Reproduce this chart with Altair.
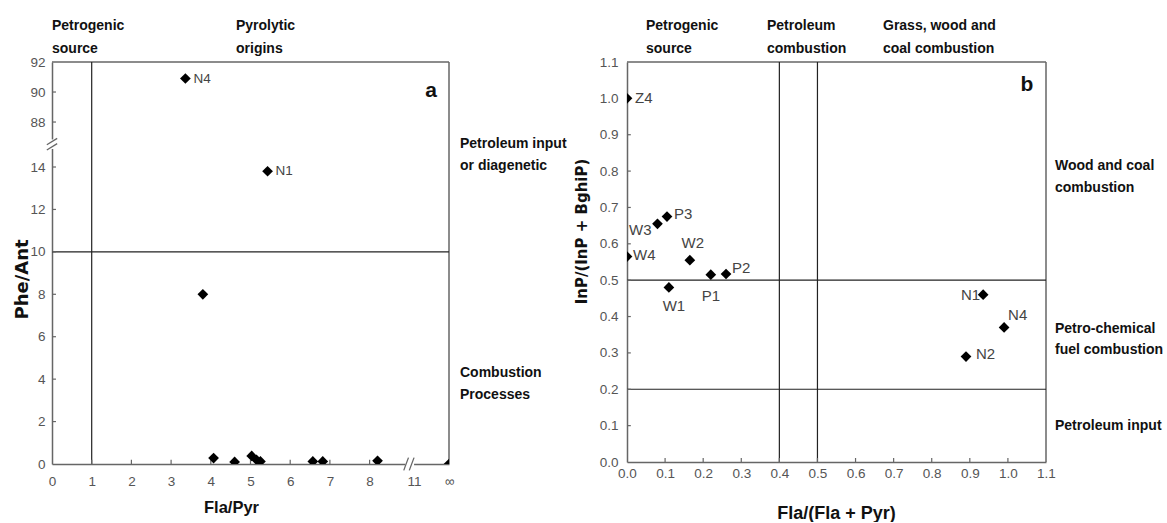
import math
import altair as alt
import pandas as pd

# ---------------- data: panel a (Phe/Ant vs Fla/Pyr) ----------------
a_names = ["N4", "N1", "", "", "", "", "", "", "", "", "", ""]
a_fla_pyr = [3.36, 5.43, 3.80, 4.07, 4.60, 5.03, 5.15, 5.25, 6.57, 6.82, 8.20, math.inf]
a_phe_ant = [90.9, 13.8, 8.0, 0.28, 0.10, 0.38, 0.20, 0.12, 0.12, 0.12, 0.15, 0.0]
a_x_ticks = [0, 1, 2, 3, 4, 5, 6, 7, 8, 11, math.inf]
a_y_ticks = [0, 2, 4, 6, 8, 10, 12, 14, 88, 90, 92]
a_x_limit = 1.0
a_y_limit = 10.0

# ---------------- data: panel b (InP/(InP+BghiP) vs Fla/(Fla+Pyr)) ----------------
b_names = ["Z4", "W3", "P3", "W4", "W2", "W1", "P1", "P2", "N1", "N4", "N2"]
b_fla_ratio = [0.0, 0.08, 0.105, 0.0, 0.165, 0.11, 0.22, 0.26, 0.935, 0.99, 0.89]
b_inp_ratio = [1.0, 0.655, 0.675, 0.565, 0.555, 0.48, 0.515, 0.517, 0.46, 0.37, 0.29]
b_ticks = [round(0.1 * i, 1) for i in range(12)]
b_x_limits = [0.4, 0.5]
b_y_limits = [0.2, 0.5]

# ---------------- styling ----------------
REG = "Liberation Sans, Arial"
WIDE_B = "DejaVu Sans"
FRAME = "#666666"
LINE = "#222222"
A_W, A_H = 397, 402
B_W, B_H = 419, 400
NOTE_SIZE = 14

# broken-axis mapping for panel a
def ax(v):
    if math.isinf(v):
        return 10.0
    if v > 9:
        return 9.12 + (v - 11) * 0.1
    return v

def ay(v):
    return v if v <= 15 else 16.12 + (v - 88) * 0.7075

A_XMAX = 10.0
A_YMAX = ay(92)

ax_vals = [ax(v) for v in a_x_ticks]
ay_vals = [ay(v) for v in a_y_ticks]
y_expr = "".join(f"datum.value > {ay(t) - 0.3:.3f} ? '{t}' : " for t in [92, 90, 88]) + "datum.label"
x_expr = "datum.value > 9.5 ? '∞' : datum.value > 8.5 ? '11' : datum.label"

axis_common = dict(ticks=False, grid=False, domainColor=FRAME, domainWidth=1.5,
                   labelColor="#555555", labelFont=REG, labelFontSize=13.5,
                   labelFlush=False, labelOverlap=False, zindex=0)

AXA_X = alt.Axis(values=ax_vals, labelExpr=x_expr, format="d", labelPadding=10,
                 title="Fla/Pyr", titleFont=REG, titleFontSize=16.5, titleFontWeight="bold",
                 titleColor="#111111", titleX=179, titleY=48, titleAlign="center",
                 titleBaseline="alphabetic", **axis_common)
AXA_Y = alt.Axis(values=ay_vals, labelExpr=y_expr, format="d", labelPadding=7,
                 title="Phe/Ant", titleFont=WIDE_B, titleFontSize=18, titleFontWeight="bold",
                 titleColor="#111111", titleX=-30, titleY=217, titleAngle=270,
                 titleAlign="center", titleBaseline="middle", **axis_common)
AXB_X = alt.Axis(values=b_ticks, format=".1f", labelPadding=4,
                 title="Fla/(Fla + Pyr)", titleFont=REG, titleFontSize=18, titleFontWeight="bold",
                 titleColor="#111111", titleX=209, titleY=56, titleAlign="center",
                 titleBaseline="alphabetic", **axis_common)
AXB_Y = alt.Axis(values=b_ticks, format=".1f", labelPadding=9,
                 title="InP/(InP + BghiP)", titleFont=WIDE_B, titleFontSize=15, titleFontWeight="bold",
                 titleColor="#111111", titleX=-46, titleY=169, titleAngle=270,
                 titleAlign="center", titleBaseline="middle", **axis_common)

def make_enc(xdom, ydom, xaxis, yaxis):
    def X(f="xd"):
        return alt.X(f"{f}:Q", scale=alt.Scale(domain=xdom, nice=False, zero=False), axis=xaxis)
    def Y(f="yd"):
        return alt.Y(f"{f}:Q", scale=alt.Scale(domain=ydom, nice=False, zero=False), axis=yaxis)
    return X, Y

one = pd.DataFrame({"k": [0]})

def rules(X, Y, segs, color, width):
    df = pd.DataFrame(segs, columns=["xd", "yd", "xd2", "yd2"])
    return alt.Chart(df).mark_rule(color=color, strokeWidth=width).encode(
        x=X(), y=Y(), x2=alt.X2("xd2:Q"), y2=alt.Y2("yd2:Q"))

def white_rect(X, Y, x0, y0, x1, y1):
    df = pd.DataFrame({"xd": [x0], "yd": [y0], "xd2": [x1], "yd2": [y1]})
    return alt.Chart(df).mark_rect(color="white").encode(
        x=X(), y=Y(), x2=alt.X2("xd2:Q"), y2=alt.Y2("yd2:Q"))

def note(lines, x, y, size=NOTE_SIZE, align="left", baseline="top", lh=22, weight="bold", font=REG):
    return alt.Chart(one).mark_text(align=align, baseline=baseline, font=font, fontSize=size,
                                    fontWeight=weight, color="#111111", lineHeight=lh).encode(
        x=alt.value(x), y=alt.value(y), text=alt.value(lines))

def points(df, X, Y):
    return alt.Chart(df).mark_point(shape="diamond", filled=True, size=115, color="black",
                                    opacity=1, clip=True).encode(x=X(), y=Y())

def point_labels(df, X, Y, place, size):
    out = []
    for name, (align, dx, dy) in place.items():
        out.append(alt.Chart(df).transform_filter(alt.datum.name == name).mark_text(
            align=align, baseline="middle", dx=dx, dy=dy, font=REG, fontSize=size,
            color="#444444").encode(x=X(), y=Y(), text="name:N"))
    return out

# ---------------- panel a ----------------
XA, YA = make_enc([0, A_XMAX], [0, A_YMAX], AXA_X, AXA_Y)
df_a = pd.DataFrame({"name": a_names,
                     "xd": [ax(v) for v in a_fla_pyr],
                     "yd": [ay(v) for v in a_phe_ant]})

layers_a = [
    rules(XA, YA, [(0, A_YMAX, A_XMAX, A_YMAX), (A_XMAX, 0, A_XMAX, A_YMAX)], FRAME, 1.5),
    rules(XA, YA, [(a_x_limit, 0, a_x_limit, A_YMAX), (0, a_y_limit, A_XMAX, a_y_limit)], LINE, 1.2),
    rules(XA, YA, [(0, v, 0.1, v) for v in ay_vals[1:-1]], FRAME, 1.2),
    rules(XA, YA, [(v, 0, v, 0.2) for v in range(1, 9)], FRAME, 1.2),
    white_rect(XA, YA, -0.2, 14.85, 0.2, 15.3),
    rules(XA, YA, [(-0.13, 14.8, 0.13, 15.1), (-0.13, 15.05, 0.13, 15.35)], FRAME, 1.3),
    white_rect(XA, YA, 8.9, -0.3, 9.12, 0.3),
    rules(XA, YA, [(8.86, -0.3, 8.98, 0.3), (9.0, -0.3, 9.12, 0.3)], FRAME, 1.3),
    points(df_a, XA, YA),
]
layers_a += point_labels(df_a, XA, YA, {"N4": ("left", 8, 0), "N1": ("left", 8, 0)}, 13.5)
layers_a += [
    note(["Petrogenic", "source"], 0, -43, lh=23),
    note(["Pyrolytic", "origins"], 184, -43, lh=23),
    note(["Petroleum input", "or diagenetic"], 408, 75),
    note(["Combustion", "Processes"], 408, 304),
    note("a", 379, 35, size=21, align="center", baseline="alphabetic"),
]
panel_a = alt.layer(*layers_a).properties(width=A_W, height=A_H)

# ---------------- panel b ----------------
XB, YB = make_enc([0, 1.1], [0, 1.1], AXB_X, AXB_Y)
df_b = pd.DataFrame({"name": b_names, "xd": b_fla_ratio, "yd": b_inp_ratio})

layers_b = [
    rules(XB, YB, [(0, 1.1, 1.1, 1.1), (1.1, 0, 1.1, 1.1)], FRAME, 1.5),
    rules(XB, YB, [(v, 0, v, 1.1) for v in b_x_limits] + [(0, v, 1.1, v) for v in b_y_limits], LINE, 1.2),
    rules(XB, YB, [(0, v, 0.01, v) for v in b_ticks[1:-1]], FRAME, 1.2),
    rules(XB, YB, [(v, 0, v, 0.011) for v in b_ticks[1:-1]], FRAME, 1.2),
    points(df_b, XB, YB),
]
place_b = {
    "Z4": ("left", 8, 0), "W3": ("right", -6, 6), "P3": ("left", 7, -3),
    "W4": ("left", 6, -2), "W2": ("center", 3, -17), "W1": ("center", 5, 19),
    "P1": ("center", 0, 21), "P2": ("left", 6, -6), "N1": ("right", -3, 0),
    "N4": ("left", 4, -12), "N2": ("left", 10, -3),
}
layers_b += point_labels(df_b, XB, YB, place_b, 15)
layers_b += [
    note(["Petrogenic", "source"], 19, -43, lh=23),
    note(["Petroleum", "combustion"], 140, -43, lh=23),
    note(["Grass, wood and", "coal combustion"], 256, -43, lh=23),
    note(["Wood and coal", "combustion"], 428, 97),
    note(["Petro-chemical", "fuel combustion"], 428, 260, lh=21),
    note("Petroleum input", 428, 357),
    note("b", 400, 29, size=21, align="center", baseline="alphabetic"),
]
panel_b = alt.layer(*layers_b).properties(width=B_W, height=B_H)

chart = alt.hconcat(panel_a, panel_b, spacing=178, bounds="flush").properties(
    padding={"left": 13, "top": 19, "right": 0, "bottom": 0},
    background="white",
).configure_view(stroke=None)

chart.save("out.html", embed_options={"renderer": "svg", "actions": False})
